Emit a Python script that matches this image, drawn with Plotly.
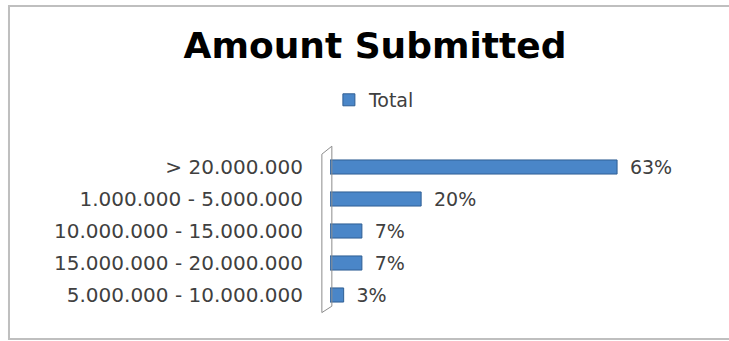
import plotly.graph_objects as go

categories = ["> 20.000.000", "1.000.000 - 5.000.000", "10.000.000 - 15.000.000",
              "15.000.000 - 20.000.000", "5.000.000 - 10.000.000"]
values = [63, 20, 7, 7, 3]
labels = ["63%", "20%", "7%", "7%", "3%"]

fig = go.Figure()
fig.add_trace(go.Bar(
    y=categories, x=values, orientation="h", name="Total",
    text=["\u00a0\u2009" + t for t in labels], textposition="outside",
    cliponaxis=False, constraintext="none",
    textfont=dict(family="DejaVu Sans", size=19, color="#404040"),
    outsidetextfont=dict(family="DejaVu Sans", size=19, color="#404040"),
    marker=dict(color="#4A86C8", line=dict(color="#2F5F94", width=1)),
    width=0.44,
))

fig.update_layout(
    width=729, height=341,
    margin=dict(l=330, r=29, t=151, b=30),
    paper_bgcolor="white", plot_bgcolor="white",
    title=dict(text="<b>Amount Submitted</b>", x=375/729, xref="container",
               y=1-45/341, yref="container", xanchor="center", yanchor="middle",
               font=dict(family="DejaVu Sans", size=36, color="#000000")),
    showlegend=True,
    legend=dict(x=0.12, y=1.319, xanchor="center", yanchor="middle",
                font=dict(family="DejaVu Sans", size=19, color="#404040"),
                bgcolor="rgba(0,0,0,0)"),
    xaxis=dict(range=[0, 81.2], visible=False, showgrid=False, zeroline=False),
    yaxis=dict(autorange="reversed", showgrid=False, zeroline=False,
               tickfont=dict(family="DejaVu Sans", size=20, color="#404040"),
               ticks="", ticklabelstandoff=26),
    shapes=[
        dict(type="rect", xref="paper", yref="paper", x0=-0.8676, x1=1.2,
             y0=-0.175, y1=1.906, line=dict(color="#BFBFBF", width=2),
             fillcolor="rgba(0,0,0,0)", layer="below"),
        dict(type="path", xref="paper", yref="paper",
             path="M -0.022,-0.01 L -0.022,0.98 L 0.005,1.03 L 0.005,0.03 Z",
             line=dict(color="#8C8C8C", width=1), fillcolor="rgba(0,0,0,0)"),
    ],
)

fig.write_html("out.html")
